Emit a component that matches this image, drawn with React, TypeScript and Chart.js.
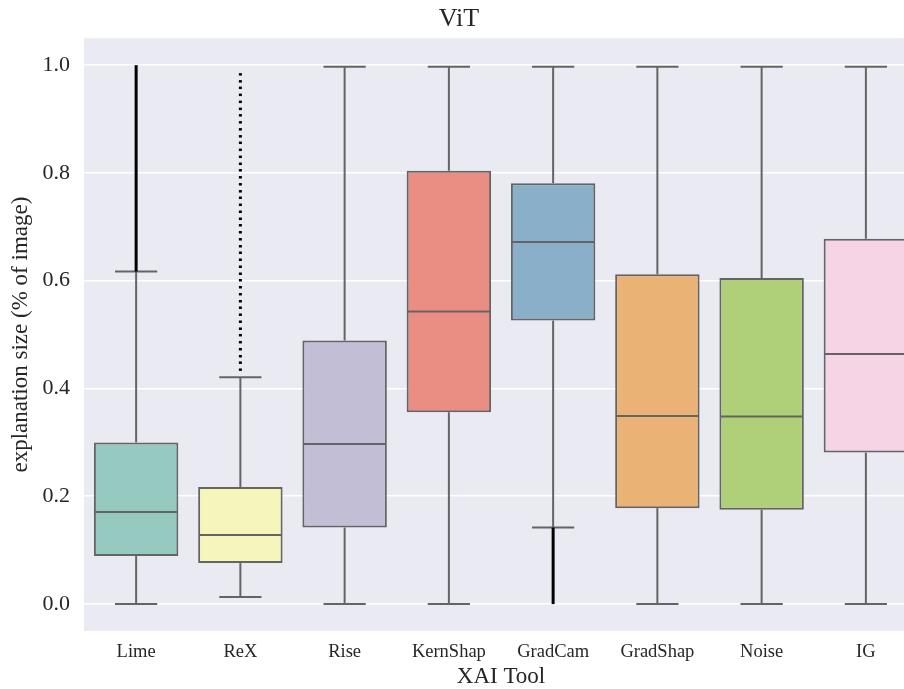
import { useEffect, useRef } from "react";
import { Chart, registerables } from "chart.js";

Chart.register(...registerables);

// XAI tools on the x axis
const tools = ["Lime", "ReX", "Rise", "KernShap", "GradCam", "GradShap", "Noise", "IG"];

// Five-number summaries of explanation size (fraction of image)
const whiskerLow = [0.0, 0.013, 0.0, 0.0, 0.142, 0.0, 0.0, 0.0];
const q1 = [0.089, 0.076, 0.142, 0.356, 0.526, 0.178, 0.175, 0.281];
const median = [0.171, 0.128, 0.297, 0.543, 0.672, 0.349, 0.348, 0.464];
const q3 = [0.3, 0.217, 0.489, 0.804, 0.781, 0.612, 0.605, 0.678];
const whiskerHigh = [0.617, 0.421, 0.997, 0.997, 0.997, 0.997, 0.997, 0.997];

// Runs of outliers so dense that they merge into a solid stroke
const denseOutlierTools = ["Lime", "GradCam"];
const denseOutlierLow = [0.617, 0.0];
const denseOutlierHigh = [1.0, 0.142];

// Individual ReX outliers
const rexOutliers = [
  0.435, 0.448, 0.46, 0.473, 0.486, 0.499, 0.511, 0.524, 0.537, 0.55, 0.562,
  0.575, 0.588, 0.601, 0.613, 0.626, 0.639, 0.652, 0.664, 0.677, 0.69, 0.703,
  0.715, 0.728, 0.741, 0.754, 0.766, 0.779, 0.792, 0.805, 0.817, 0.83, 0.843,
  0.856, 0.868, 0.881, 0.894, 0.907, 0.919, 0.932, 0.945, 0.958, 0.97, 0.983,
];

const yTicks = [0, 0.2, 0.4, 0.6, 0.8, 1.0];

const boxColors = [
  "#96cac1", "#f6f6bc", "#c1bed6", "#ea8e83",
  "#8aafc9", "#eab375", "#afcf78", "#f6d3e5",
];

const LINE = "#646464";
const TEXT = "#262626";
const FONT = "'Liberation Serif', 'DejaVu Serif', serif";

const boxParts = {
  id: "boxParts",
  beforeDraw(chart: any) {
    const { ctx, chartArea: a } = chart;
    ctx.save();
    ctx.fillStyle = "#eaeaf2";
    ctx.fillRect(a.left, a.top, a.right - a.left, a.bottom - a.top);
    ctx.restore();
  },
  afterDatasetsDraw(chart: any) {
    const { ctx } = chart;
    const x = chart.scales.x;
    const y = chart.scales.y;
    const bars = chart.getDatasetMeta(0).data;
    ctx.save();
    ctx.strokeStyle = LINE;
    ctx.lineWidth = 2;
    ctx.lineCap = "butt";
    const seg = (x1: number, y1: number, x2: number, y2: number) => {
      ctx.beginPath();
      ctx.moveTo(x1, y1);
      ctx.lineTo(x2, y2);
      ctx.stroke();
    };
    tools.forEach((_, i) => {
      const cx = x.getPixelForValue(i);
      const half = bars[i].width / 2;
      const capHalf = half / 2;
      const yh = y.getPixelForValue(whiskerHigh[i]);
      const yl = y.getPixelForValue(whiskerLow[i]);
      // whiskers
      seg(cx, y.getPixelForValue(q3[i]), cx, yh);
      seg(cx, y.getPixelForValue(q1[i]), cx, yl);
      // caps
      seg(cx - capHalf, yh, cx + capHalf, yh);
      seg(cx - capHalf, yl, cx + capHalf, yl);
      // median
      const ym = y.getPixelForValue(median[i]);
      seg(cx - half + 1, ym, cx + half - 1, ym);
    });

    // outliers
    ctx.strokeStyle = "#000";
    ctx.fillStyle = "#000";
    ctx.lineWidth = 3;
    denseOutlierTools.forEach((t, k) => {
      const cx = x.getPixelForValue(tools.indexOf(t));
      seg(cx, y.getPixelForValue(denseOutlierLow[k]), cx, y.getPixelForValue(denseOutlierHigh[k]));
    });
    const rx = x.getPixelForValue(tools.indexOf("ReX"));
    rexOutliers.forEach((v) => {
      const py = y.getPixelForValue(v);
      ctx.fillRect(rx - 1.5, py - 1.2, 3, 2.5);
    });
    ctx.restore();
  },
};

export default function App() {
  const ref = useRef<HTMLCanvasElement | null>(null);

  useEffect(() => {
    if (!ref.current) return;
    const chart = new Chart(ref.current, {
      type: "bar",
      data: {
        labels: tools,
        datasets: [
          {
            data: tools.map((_, i) => [q1[i], q3[i]]) as any,
            backgroundColor: boxColors,
            borderColor: LINE,
            borderWidth: 2,
            borderSkipped: false,
            barPercentage: 0.81,
            categoryPercentage: 1,
          },
        ],
      },
      options: {
        animation: false,
        responsive: true,
        maintainAspectRatio: false,
        layout: { padding: { left: 0, right: 3, top: 0, bottom: 0 } },
        plugins: {
          legend: { display: false },
          tooltip: { enabled: false },
          title: {
            display: true,
            text: "ViT",
            color: TEXT,
            font: { family: FONT, size: 26, weight: "normal" },
            padding: { top: 4, bottom: 3 },
          },
        },
        scales: {
          x: {
            grid: { display: false, drawTicks: false },
            border: { display: false },
            ticks: { color: TEXT, padding: 10, font: { family: FONT, size: 18.5 } },
            title: {
              display: true,
              text: "XAI Tool",
              color: TEXT,
              font: { family: FONT, size: 23 },
              padding: { top: 0, bottom: 0 },
            },
            afterFit: (s: any) => {
              s.height = 60;
            },
          },
          y: {
            min: -0.05,
            max: 1.05,
            afterBuildTicks: (s: any) => {
              s.ticks = yTicks.map((v) => ({ value: v }));
            },
            grid: { color: "#ffffff", lineWidth: 1.6, drawTicks: false },
            border: { display: false },
            ticks: {
              color: TEXT,
              padding: 14,
              font: { family: FONT, size: 22 },
              callback: (v: any) => Number(v).toFixed(1),
            },
            title: {
              display: true,
              text: "explanation size (% of image)",
              color: TEXT,
              font: { family: FONT, size: 23 },
              padding: { top: 7, bottom: 0 },
            },
            afterFit: (s: any) => {
              s.width = 84;
            },
          },
        },
      },
      plugins: [boxParts],
    });
    return () => chart.destroy();
  }, []);

  return (
    <div style={{ position: "fixed", left: 0, top: 0, width: 904, height: 689, overflow: "hidden" }}>
      <div style={{ position: "relative", width: 921, height: 691 }}>
        <canvas ref={ref} />
      </div>
    </div>
  );
}
